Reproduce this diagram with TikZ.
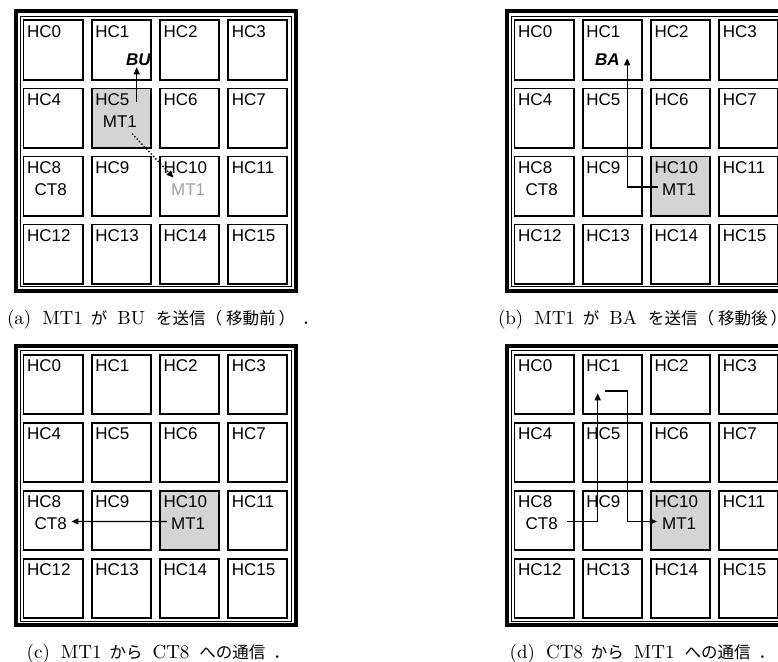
\documentclass[tikz,border=0pt]{standalone}
\usepackage{fontspec}
\newfontfamily\hv{Liberation Sans}
\newfontfamily\jp{Noto Sans CJK JP}
\newfontfamily\lmten{lmroman10-regular}[Extension=.otf]
\usetikzlibrary{arrows.meta,calc}
\definecolor{cellgray}{gray}{0.83}
\definecolor{ghost}{gray}{0.64}
\newcommand\jt[1]{{\jp\fontsize{16.5}{20}\selectfont #1}}
\newcommand\gap[1]{\hspace{#1pt}}
\tikzset{
  cell/.style={draw, line width=1.8, minimum width=59.2, minimum height=59.2, inner sep=0},
  lab/.style={font=\hv\fontsize{17}{20}\selectfont, inner sep=0, anchor=base west},
  bi/.style={font=\hv\bfseries\itshape\fontsize{17}{20}\selectfont, inner sep=0, anchor=base west},
  captext/.style={font=\lmten\fontsize{19}{22}\selectfont, inner sep=0, anchor=base west},
  arr/.style={line width=1.4, -{Triangle[length=7,width=6]}},
  dotarr/.style={line width=1.4, dotted, -{Triangle[length=7,width=6]}}
}
\newcommand\mypanel[3]{%
  \begin{scope}[shift={#2}]
    \draw[line width=4] (16,11.2) rectangle (296,291);
    \draw[line width=0.9] (20.5,16) rectangle (291.5,286.8);
    \foreach \r in {0,...,3}{\foreach \c in {0,...,3}{%
      \pgfmathtruncatemacro\k{4*\r+\c}%
      \ifnum\k=#3\relax\def\fc{cellgray}\else\def\fc{white}\fi
      \node[cell, fill=\fc] (#1\k) at ({53+68.2*\c},{50+68*\r}) {};
      \node[lab] (#1l\k) at ([shift={(4.5,18)}]#1\k.north west) {HC\k};
    }}
  \end{scope}}
\begin{document}
\begin{tikzpicture}[x=1pt,y=-1pt]
\useasboundingbox (0,0) rectangle (778,661);
\clip (0,0) rectangle (778,661);
% (a)
\mypanel{a}{(0,0)}{5}
\node[lab] (a-mt) at ([shift={(12,40)}]a5.north west) {MT1};
\node[lab] (a-ct) at ([shift={(12,40)}]a8.north west) {CT8};
\node[lab, text=ghost] (a-mt2) at ([shift={(12,40)}]a10.north west) {MT1};
\node[bi] (a-bu) at ([shift={(35.3,45.7)}]a1.north west) {BU};
\coordinate (a-s) at (136.7,101.7);
\draw[arr] (a-s) -- ([shift={(0,1.7)}]a-bu.south -| a-s);
\draw[dotarr] ([shift={(-5,6)}]a-mt.south east) -- ([shift={(2.6,-6)}]a-mt2.north west);
\node[captext] (capa) at (6.8,324) {(a)\gap{11}MT1\gap{8}\jt{が}\gap{10}BU\gap{11}\jt{を送信（\gap{4}移動前\gap{3}）\gap{7}．}};
% (b)
\mypanel{b}{(491,0)}{10}
\node[lab] (b-mt) at ([shift={(12,40)}]b10.north west) {MT1};
\node[lab] (b-ct) at ([shift={(12,40)}]b8.north west) {CT8};
\node[bi] (b-ba) at ([shift={(13.3,45.7)}]b1.north west) {BA};
\coordinate (b-up) at (627.2,58.3);
\draw[arr] ([shift={(-4,-2.5)}]b-mt.west) -| (b-up);
\node[captext] (capb) at (497.8,324) {(b)\gap{11}MT1\gap{8}\jt{が}\gap{10}BA\gap{11}\jt{を送信（\gap{4}移動後\gap{3}）\gap{7}．}};
% (c)
\mypanel{c}{(0,334.3)}{10}
\node[lab] (c-mt) at ([shift={(12,40)}]c10.north west) {MT1};
\node[lab] (c-ct) at ([shift={(12,40)}]c8.north west) {CT8};
\draw[arr] ([shift={(-4,-2.5)}]c-mt.west) -- ([shift={(4.4,-2.5)}]c-ct.east);
\node[captext] (capc) at (26.5,658) {(c)\gap{11}MT1\gap{8}\jt{から}\gap{10}CT8\gap{10}\jt{への通信\gap{8}．}};
% (d)
\mypanel{d}{(491,334.3)}{10}
\node[lab] (d-mt) at ([shift={(12,40)}]d10.north west) {MT1};
\node[lab] (d-ct) at ([shift={(12,40)}]d8.north west) {CT8};
\coordinate (d-t1) at (597.7,393.3);
\draw[arr] ([shift={(9,-2.5)}]d-ct.east) -| (d-t1);
\coordinate (d-s2) at (605,391);
\coordinate (d-k) at (627.7,391);
\draw[arr] (d-s2) -- (d-k) |- ([shift={(-5,-2.5)}]d-mt.west);
\node[captext] (capd) at (509.5,658) {(d)\gap{11}CT8\gap{8}\jt{から}\gap{10}MT1\gap{10}\jt{への通信\gap{8}．}};
\end{tikzpicture}
\end{document}
